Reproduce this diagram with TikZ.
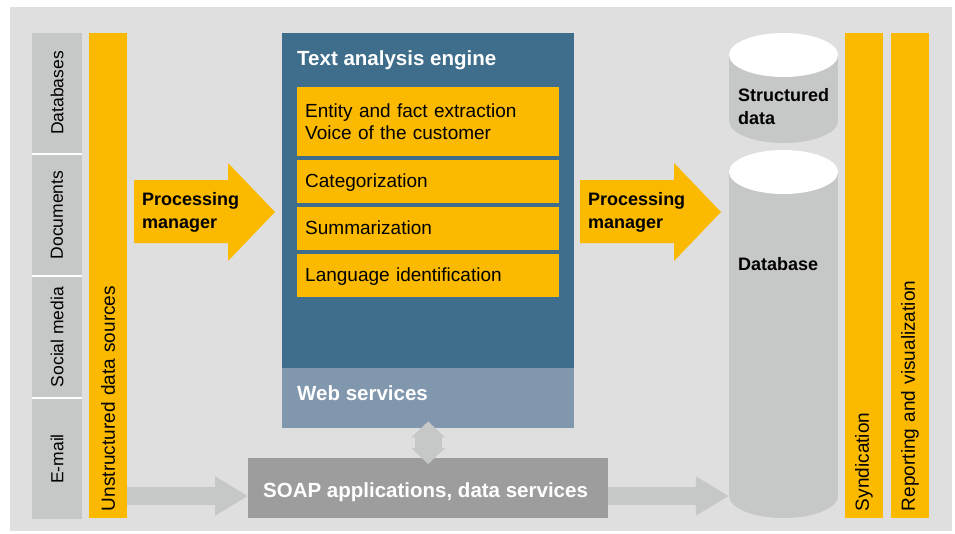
\documentclass[tikz,border=0pt]{standalone}
\usepackage{fontspec}
\setmainfont{Liberation Sans}
\usetikzlibrary{arrows.meta}

\definecolor{panelgray}{HTML}{DFDFDF}
\definecolor{srcgray}{HTML}{C6C7C7}
\definecolor{barorange}{HTML}{FBB900}
\definecolor{engineblue}{HTML}{3F6E8C}
\definecolor{webblue}{HTML}{8097AE}
\definecolor{soapgray}{HTML}{9C9D9C}

\newcommand{\fillarea}[6]{%
\node[fill=#5, inner sep=0pt, minimum width=#3pt, minimum height=#4pt, anchor=north west] (#6) at (#1,#2) {};
}
\newcommand{\drawdrum}[4]{%
\node[inner sep=0pt, minimum width=109pt, minimum height=#3pt-#2pt, anchor=north] (#1) at (783.5,#2) {};
\fill[srcgray] (729,#2) rectangle (838,#3);
\fill[srcgray] (783.5,#3) ellipse [x radius=54.5, y radius=#4];
\fill[white] (783.5,#2) ellipse [x radius=54.5, y radius=#4];
}
\newcommand{\pmarrow}[2]{%
\fill[barorange] (#1,180) -- ++(94,0) -- ++(0,-17) -- ++(47,49) -- ++(-47,49) -- ++(0,-18) -- ++(-94,0) -- cycle;
\node[strong, anchor=west] (#2) at (#1+8,212) {Processing\\manager};
}

\begin{document}
\begin{tikzpicture}[x=1pt, y=-1pt,
srcbox/.style={fill=srcgray, rotate=90, inner sep=0pt, minimum width=120pt, minimum height=50pt, font=\fontsize{17.5}{21}\selectfont},
bar/.style={fill=barorange, rotate=90, inner xsep=7pt, inner ysep=0pt, minimum height=38pt, text width=471pt, align=left, font=\fontsize{19}{23}\selectfont},
task/.style={fill=barorange, anchor=north west, inner xsep=8pt, inner ysep=0pt, text width=246pt, align=left, minimum height=43pt, font=\fontsize{19}{22}\selectfont},
heading/.style={text=white, inner sep=0pt, font=\bfseries\fontsize{20.5}{24}\selectfont},
strong/.style={inner sep=0pt, align=left, font=\bfseries\fontsize{18}{23}\selectfont},
feed/.style={srcgray, line width=18pt, -{Triangle[length=33pt,width=37pt]}},
twoway/.style={srcgray, line width=27pt, {Triangle[length=16pt,width=33pt]}-{Triangle[length=16pt,width=33pt]}}]

\useasboundingbox (0,0) rectangle (955,533);
\fill[white] (0,0) rectangle (955,533);
\fill[panelgray] (10,7) rectangle (952,531);

\fill[white] (32,33) rectangle (82,518);
\foreach \src [count=\i from 0] in {Databases,Documents,Social media,E-mail}
{
\node[srcbox] (src\i) at (57,93+122*\i) {\src};
}

\node[bar] (ustr) at (108,275.5) {Unstructured data sources};
\node[bar] (synd) at (864,275.5) {Syndication};
\node[bar] (report) at (910,275.5) {Reporting and visualization};

\pmarrow{134}{pmleft}
\pmarrow{580}{pmright}

\fillarea{282}{33}{292}{335}{engineblue}{engine}
\fillarea{282}{368}{292}{60}{webblue}{web}
\fillarea{248}{458}{360}{60}{soapgray}{soap}

\node[heading, anchor=base west] (enginetitle) at (297,65) {Text analysis engine};
\node[heading, anchor=base west] (webtitle) at (297,400) {Web services};
\node[heading, anchor=base west] (soaptitle) at (263,497) {SOAP applications, data services};

\node[task, minimum height=69pt] (task0) at (297,87) {Entity and fact extraction\\Voice of the customer};
\foreach \job [count=\i] in {Categorization,Summarization,Language identification}
{
\node[task, text height=15pt, text depth=3pt] (task\i) at (297,113+47*\i) {\job};
}

\drawdrum{sdata}{55}{121}{22}
\drawdrum{dbase}{172}{496}{22}

\node[strong, anchor=west] (sdatatext) at (738,107) {Structured\\data};
\node[strong, anchor=base west] (dbasetext) at (738,270) {Database};

\draw[feed] (ustr.south |- 0,496) -- (soap.west |- 0,496);
\draw[feed] (soap.east |- 0,496) -- (dbase.west |- 0,496);
\draw[twoway] ([yshift=7pt]web.south) -- ([yshift=-6pt]soap.north);

\end{tikzpicture}
\end{document}
